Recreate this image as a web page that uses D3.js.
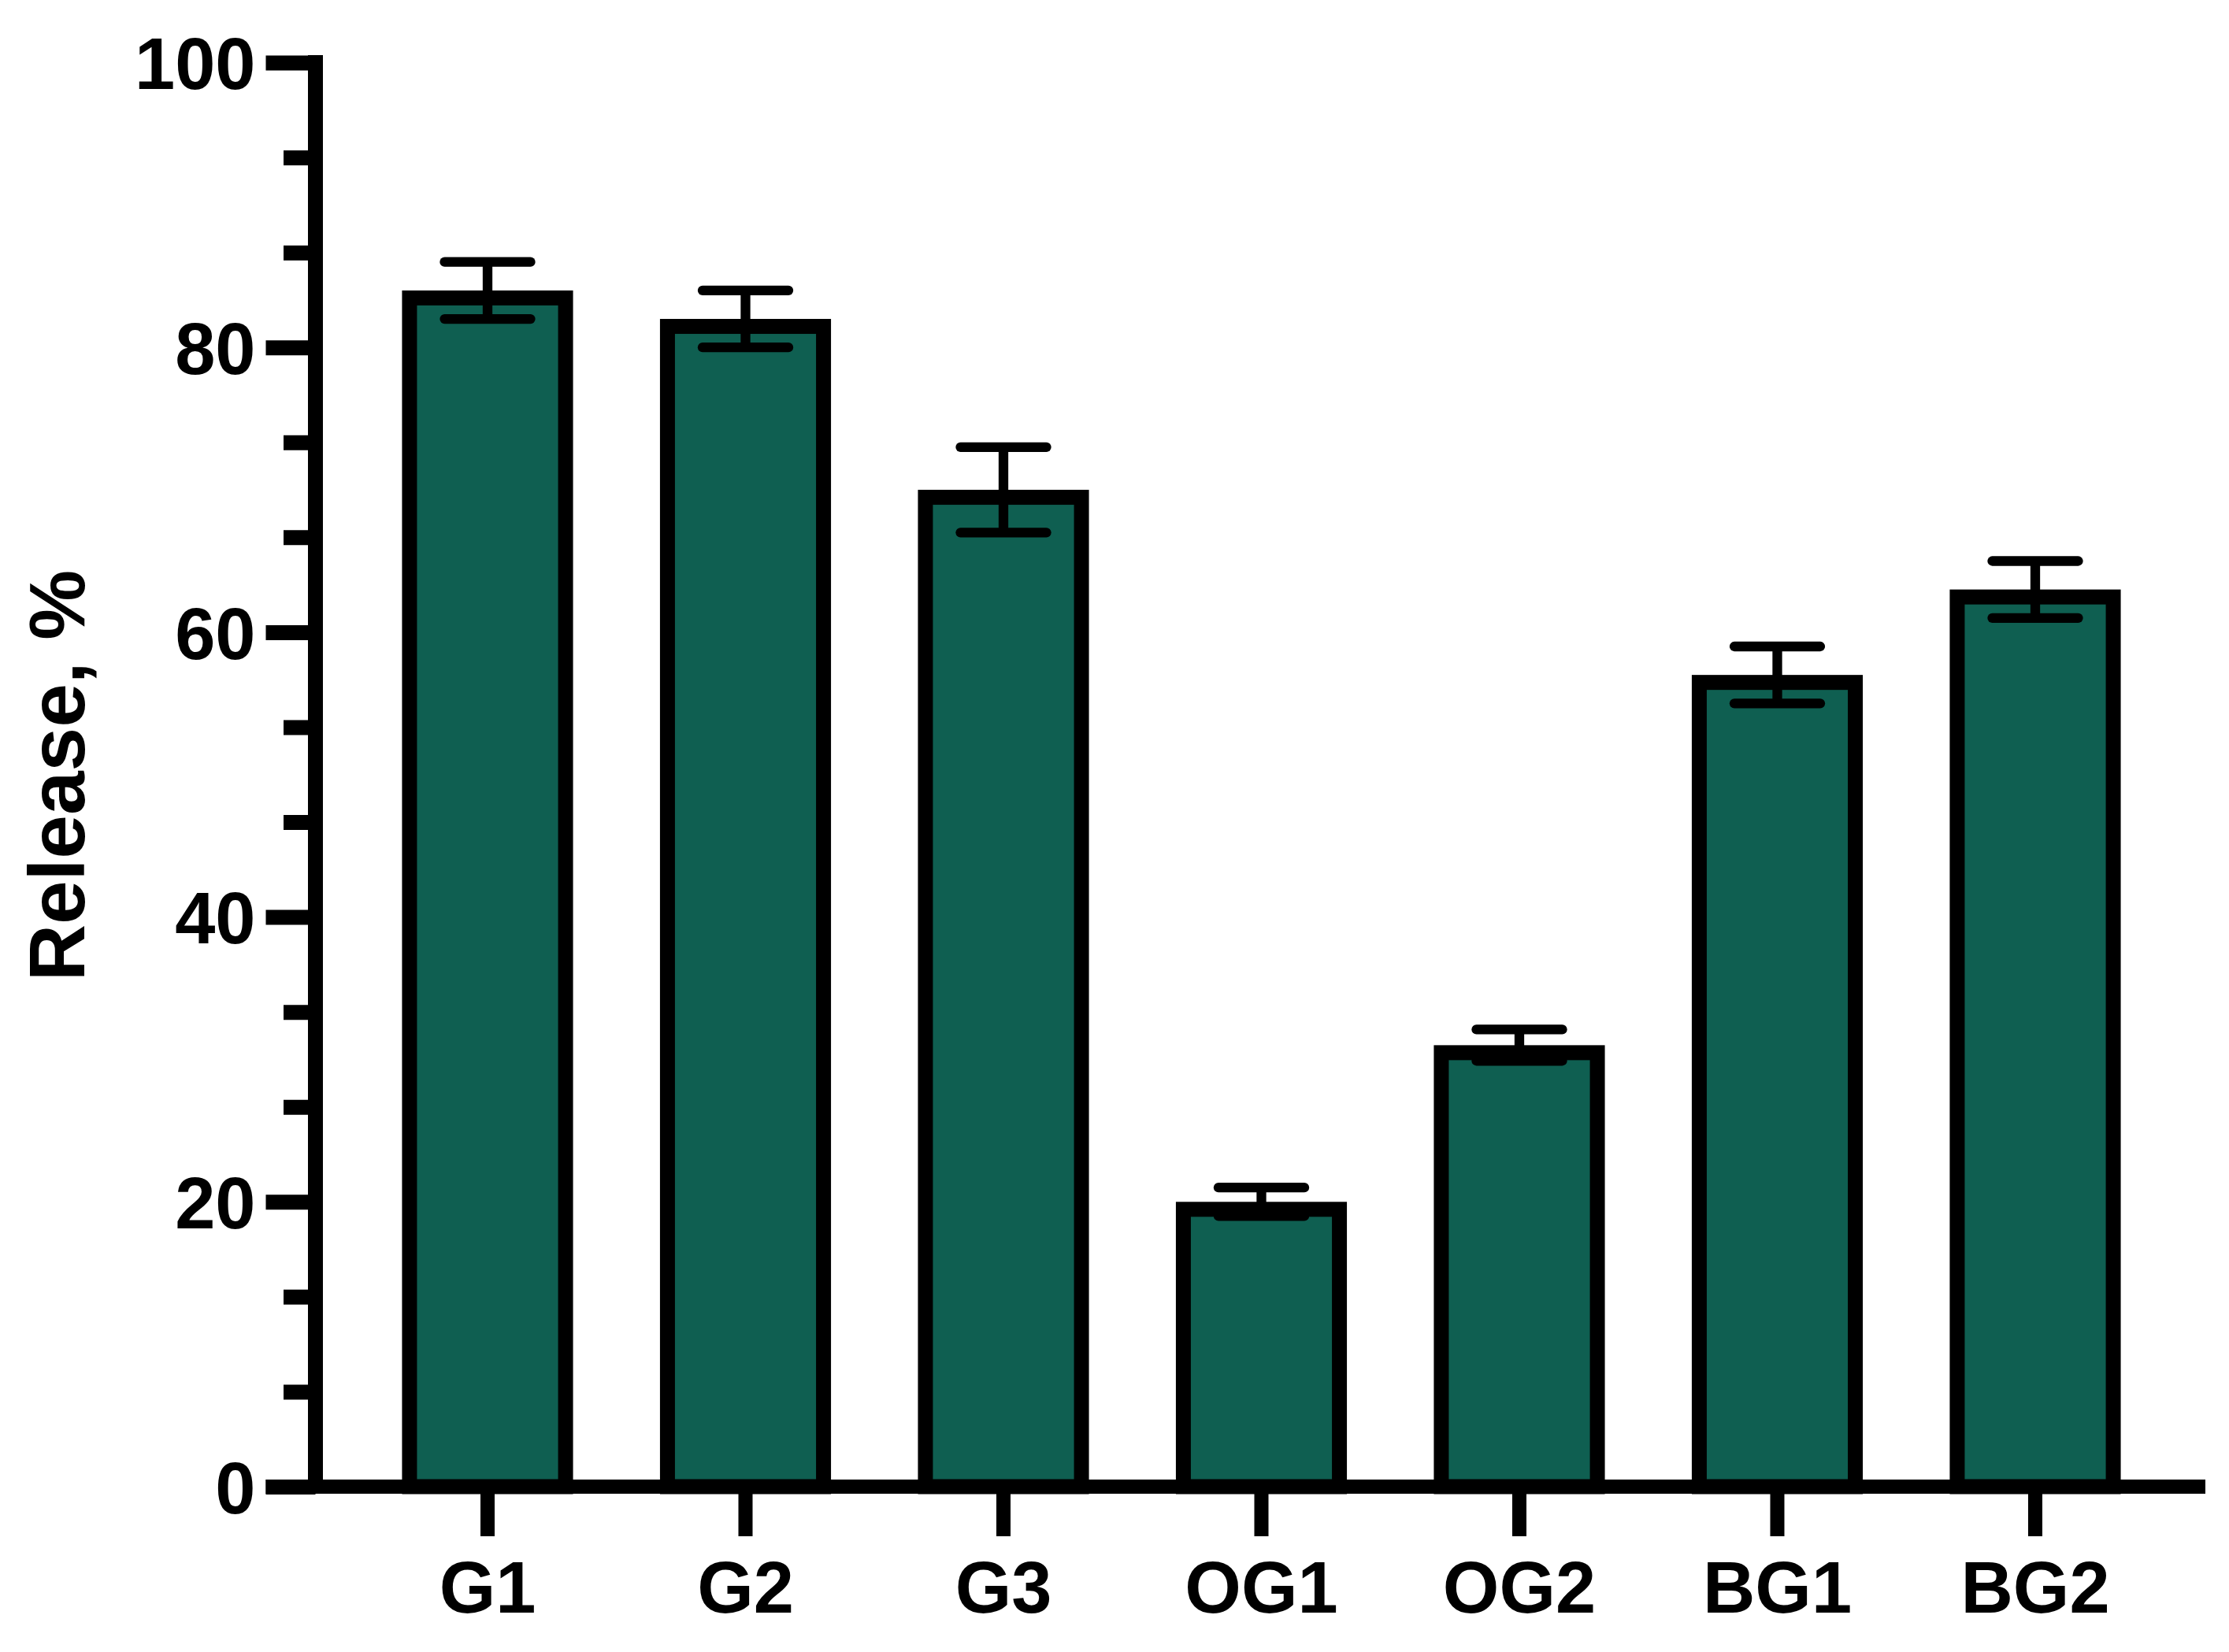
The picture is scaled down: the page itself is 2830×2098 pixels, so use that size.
<!DOCTYPE html>
<html>
<head>
<meta charset="utf-8">
<script src="https://cdn.jsdelivr.net/npm/d3@7"></script>
<style>
  html, body { margin: 0; padding: 0; background: #ffffff; }
  svg { display: block; }
  text { font-family: "Liberation Sans", Arial, Helvetica, sans-serif; font-weight: bold; fill: #000; }
</style>
</head>
<body>
<div id="chart"></div>
<script>
// ---- data ----
const categories = ["G1", "G2", "G3", "OG1", "OG2", "BG1", "BG2"];
const releaseMean = [84, 82, 70, 20, 31, 57, 63];
const releaseError = [2, 2, 3, 1, 1.1, 2, 2];
const yTickValues = [0, 20, 40, 60, 80, 100];
const yAxisTitle = "Release, %";

// ---- layout ----
const W = 2830, H = 2098;
const axisX = 400.5, baseY = 1888, topY = 79.5;
const barColor = "#0f5f51";

const svg = d3.select("#chart").append("svg")
  .attr("width", W).attr("height", H)
  .attr("viewBox", `0 0 ${W} ${H}`);

svg.append("rect").attr("width", W).attr("height", H).attr("fill", "#fff");

const y = d3.scaleLinear().domain([0, 100]).range([baseY, topY]);
const x = d3.scaleBand().domain(categories)
  .range([455.25, 2747.75]).paddingInner(0.395).paddingOuter(0.1975);

const data = categories.map((c, i) => ({ c, m: releaseMean[i], e: releaseError[i] }));

// ---- bars ----
const barSW = 19;
svg.append("g").selectAll("rect").data(data).join("rect")
  .attr("x", d => x(d.c))
  .attr("width", x.bandwidth())
  .attr("y", d => y(d.m) + barSW / 2)
  .attr("height", d => y(0) - y(d.m) - barSW / 2)
  .attr("fill", barColor)
  .attr("stroke", "#000")
  .attr("stroke-width", barSW);

// ---- error bars ----
const eb = svg.append("g").attr("stroke", "#000").attr("stroke-width", 12.3);
const cx = d => x(d.c) + x.bandwidth() / 2;
const capHalf = 54.5;
eb.selectAll("line.stem").data(data).join("line").attr("class", "stem")
  .attr("x1", cx).attr("x2", cx)
  .attr("y1", d => y(d.m + d.e)).attr("y2", d => y(d.m - d.e));
eb.selectAll("line.capTop").data(data).join("line").attr("class", "capTop")
  .attr("stroke-linecap", "round")
  .attr("x1", d => cx(d) - capHalf).attr("x2", d => cx(d) + capHalf)
  .attr("y1", d => y(d.m + d.e)).attr("y2", d => y(d.m + d.e));
eb.selectAll("line.capBot").data(data).join("line").attr("class", "capBot")
  .attr("stroke-linecap", "round")
  .attr("x1", d => cx(d) - capHalf).attr("x2", d => cx(d) + capHalf)
  .attr("y1", d => y(d.m - d.e)).attr("y2", d => y(d.m - d.e));

// ---- y axis ----
const minorTicks = [];
for (let i = 0; i < yTickValues.length - 1; i++) {
  const a = yTickValues[i], b = yTickValues[i + 1];
  minorTicks.push(a + (b - a) / 3, a + 2 * (b - a) / 3);
}
const majorLen = 63, minorLen = 40.5;

const yAxisMajor = svg.append("g").attr("transform", `translate(${axisX},0)`)
  .call(d3.axisLeft(y).tickValues(yTickValues).tickSize(majorLen).tickPadding(13).tickSizeOuter(0));
yAxisMajor.select(".domain").remove();
yAxisMajor.selectAll(".tick line").attr("stroke", "#000").attr("stroke-width", 19);
yAxisMajor.selectAll(".tick text").attr("font-size", 92).attr("dy", "0.36em")
  .style("font-family", '"Liberation Sans", Arial, sans-serif').style("font-weight", "bold");

const yAxisMinor = svg.append("g").attr("transform", `translate(${axisX},0)`)
  .call(d3.axisLeft(y).tickValues(minorTicks).tickSize(minorLen).tickFormat(""));
yAxisMinor.select(".domain").remove();
yAxisMinor.selectAll(".tick line").attr("stroke", "#000").attr("stroke-width", 19);

// y axis line
svg.append("line")
  .attr("x1", axisX).attr("x2", axisX)
  .attr("y1", topY - 9.5).attr("y2", baseY + 9)
  .attr("stroke", "#000").attr("stroke-width", 19);

// ---- x axis ----
const xAxis = svg.append("g").attr("transform", `translate(0,${baseY})`)
  .call(d3.axisBottom(x).tickSize(63).tickPadding(32).tickSizeOuter(0));
xAxis.select(".domain").remove();
xAxis.selectAll(".tick line").attr("stroke", "#000").attr("stroke-width", 18);
xAxis.selectAll(".tick text").attr("font-size", 92)
  .style("font-family", '"Liberation Sans", Arial, sans-serif').style("font-weight", "bold");

svg.append("line")
  .attr("x1", axisX - majorLen).attr("x2", 2800)
  .attr("y1", baseY).attr("y2", baseY)
  .attr("stroke", "#000").attr("stroke-width", 18);

// ---- y axis title ----
svg.append("text")
  .attr("transform", `translate(107,985) rotate(-90)`)
  .attr("text-anchor", "middle")
  .attr("font-size", 100)
  .text(yAxisTitle);
</script>
</body>
</html>
